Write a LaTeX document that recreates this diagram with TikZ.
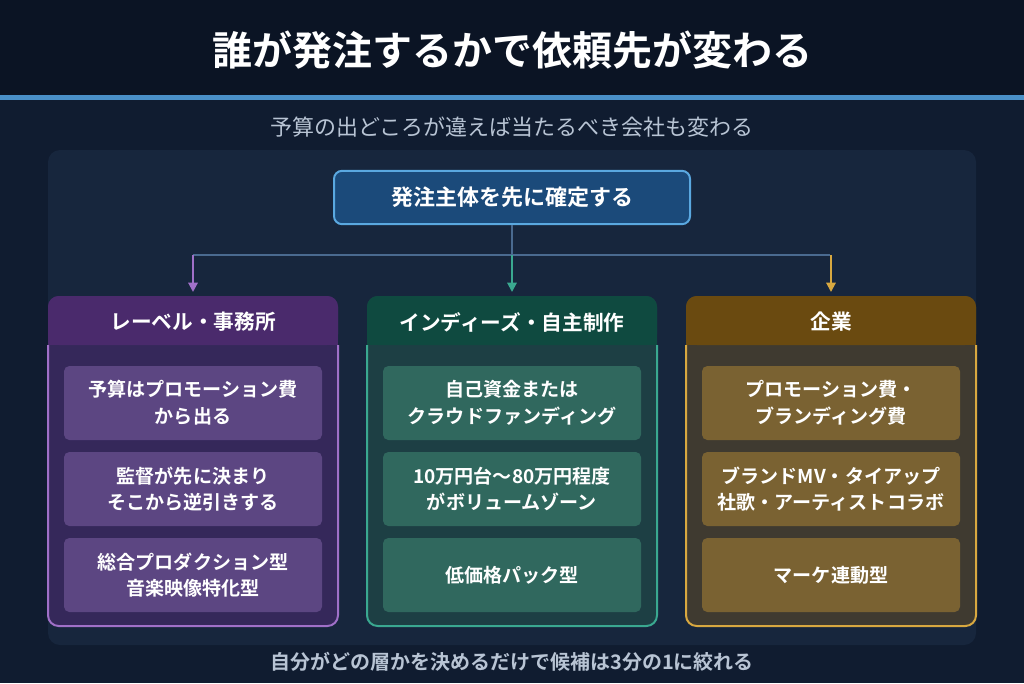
\documentclass[tikz,border=0pt]{standalone}
\usepackage{fontspec}
\setmainfont{Noto Sans CJK JP}
\newfontfamily\jpbold{Noto Sans CJK JP Bold}
\usetikzlibrary{positioning,arrows.meta}
\definecolor{bgnavy}{HTML}{101C30}
\definecolor{topnavy}{HTML}{0B1424}
\definecolor{panelbg}{HTML}{17263D}
\definecolor{lineblue}{HTML}{4A90C8}
\definecolor{rootfill}{HTML}{1B4A7A}
\definecolor{rootline}{HTML}{5AA8E0}
\definecolor{purhead}{HTML}{4A2A6C}
\definecolor{purbody}{HTML}{35285A}
\definecolor{purline}{HTML}{A070C8}
\definecolor{puritem}{HTML}{5C4682}
\definecolor{grnhead}{HTML}{0F4A40}
\definecolor{grnbody}{HTML}{1D3F44}
\definecolor{grnline}{HTML}{3AA890}
\definecolor{grnitem}{HTML}{30685E}
\definecolor{gldhead}{HTML}{6A4A10}
\definecolor{gldbody}{HTML}{3F3A30}
\definecolor{gldline}{HTML}{D8A840}
\definecolor{glditem}{HTML}{7A6232}
\definecolor{subgray}{HTML}{B8C4D4}
\definecolor{connline}{HTML}{4A6A90}
\begin{document}
\begin{tikzpicture}[x=0.75pt,y=-0.75pt,
  item/.style={rounded corners=4pt,minimum width=193.5pt,minimum height=55.5pt,
    text=white,align=center,font=\jpbold\fontsize{14.3}{20}\selectfont},
  head/.style={text=white,font=\jpbold\fontsize{15.5}{18}\selectfont},
  arr/.style={-{Triangle[length=7pt,width=7pt]},line width=1.5pt}]
\useasboundingbox (0,0) rectangle (1024,683);
\fill[bgnavy] (0,0) rectangle (1024,683);
\fill[topnavy] (0,0) rectangle (1024,96);
\fill[lineblue] (0,95) rectangle (1024,100);
\node[text=white,font=\jpbold\fontsize{30}{34}\selectfont] (title) at (512,50) {誰が発注するかで依頼先が変わる};
\node[text=subgray,font=\fontsize{16.5}{19}\selectfont] (sub) at (512,127) {予算の出どころが違えば当たるべき会社も変わる};
\fill[panelbg,rounded corners=9pt] (48,150) rectangle (976,645);
\node[text=subgray,font=\jpbold\fontsize{15}{18}\selectfont] (foot) at (512,662) {自分がどの層かを決めるだけで候補は3分の1に絞れる};
% root
\node[draw=rootline,line width=1.5pt,fill=rootfill,rounded corners=6pt,minimum width=267pt,minimum height=40pt,
  text=white,font=\jpbold\fontsize{16.5}{19}\selectfont] (root) at (512,197.5) {発注主体を先に確定する};
\coordinate (hub) at (512,255);
\coordinate (hl) at (193,255);
\coordinate (hr) at (830,255);
\draw[connline,line width=1.5pt] (root.south) -- (hub);
\draw[connline,line width=1.5pt] (hl) -- (hr);
% columns
\foreach \cx/\hd/\bd/\ln/\it/\name/\lbl in {
  193/purhead/purbody/purline/puritem/label/{レーベル・事務所},
  512/grnhead/grnbody/grnline/grnitem/indie/{インディーズ・自主制作},
  831/gldhead/gldbody/gldline/glditem/corp/{企業}}{
  \fill[\bd,rounded corners=8pt] (\cx-145,296) rectangle (\cx+145,626);
  \fill[\hd,rounded corners=8pt] (\cx-145,296) rectangle (\cx+145,345);
  \fill[\hd] (\cx-145,330) rectangle (\cx+145,345);
  \draw[\ln,line width=1.5pt,rounded corners=8pt] (\cx-145,345) -- (\cx-145,626) -- (\cx+145,626) -- (\cx+145,345);
  \node[head] (\name) at (\cx,322) {\lbl};
  \coordinate (\name top) at (\cx,292);
  \draw[arr,\ln] (\cx,255) -- (\name top);
}
\node[item,fill=puritem] (l1) at (193,403) {予算はプロモーション費\\から出る};
\node[item,fill=puritem] (l2) at (193,489) {監督が先に決まり\\そこから逆引きする};
\node[item,fill=puritem] (l3) at (193,575) {総合プロダクション型\\音楽映像特化型};
\node[item,fill=grnitem] (i1) at (512,403) {自己資金または\\クラウドファンディング};
\node[item,fill=grnitem] (i2) at (512,489) {10万円台〜80万円程度\\がボリュームゾーン};
\node[item,fill=grnitem] (i3) at (512,575) {低価格パック型};
\node[item,fill=glditem] (c1) at (831,403) {プロモーション費・\\ブランディング費};
\node[item,fill=glditem] (c2) at (831,489) {ブランドMV・タイアップ\\社歌・アーティストコラボ};
\node[item,fill=glditem] (c3) at (831,575) {マーケ連動型};
\end{tikzpicture}
\end{document}
